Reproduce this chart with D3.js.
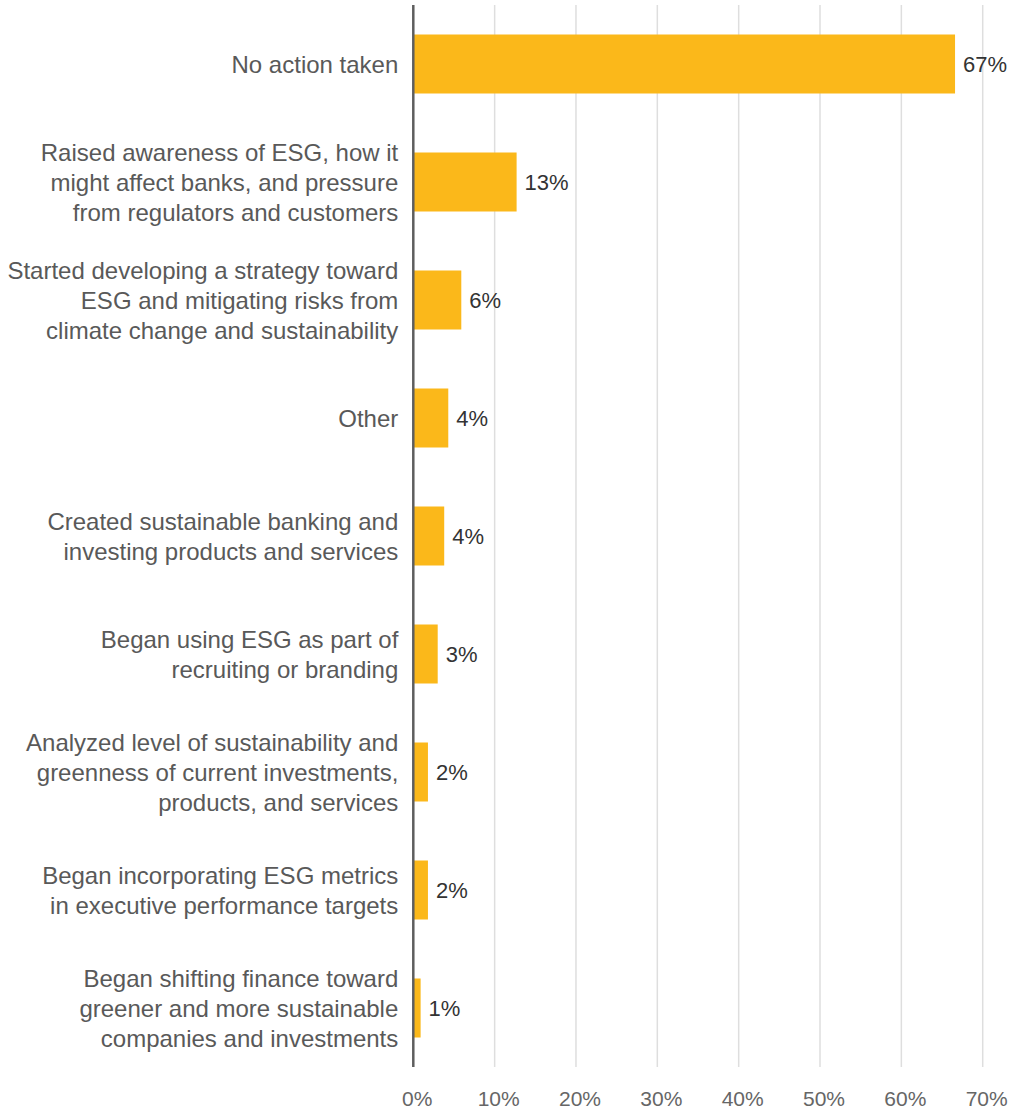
<!DOCTYPE html>
<html>
<head>
<meta charset="utf-8">
<script src="https://cdn.jsdelivr.net/npm/d3@7/dist/d3.min.js"></script>
<style>
  html, body { margin: 0; padding: 0; background: #fff; }
  svg { display: block; font-family: "Liberation Sans", Arial, Helvetica, sans-serif; }
</style>
</head>
<body>
<svg id="chart" width="1015" height="1109"></svg>
<script>
const categories = [
  ["No action taken"],
  ["Raised awareness of ESG, how it", "might affect banks, and pressure", "from regulators and customers"],
  ["Started developing a strategy toward", "ESG and mitigating risks from", "climate change and sustainability"],
  ["Other"],
  ["Created sustainable banking and", "investing products and services"],
  ["Began using ESG as part of", "recruiting or branding"],
  ["Analyzed level of sustainability and", "greenness of current investments,", "products, and services"],
  ["Began incorporating ESG metrics", "in executive performance targets"],
  ["Began shifting finance toward", "greener and more sustainable", "companies and investments"]
];
const values = [66.6, 12.7, 5.9, 4.3, 3.8, 3.0, 1.8, 1.8, 0.9];
const valueLabels = ["67%", "13%", "6%", "4%", "4%", "3%", "2%", "2%", "1%"];
const ticks = [0, 10, 20, 30, 40, 50, 60, 70];
const tickLabels = ["0%", "10%", "20%", "30%", "40%", "50%", "60%", "70%"];

const svg = d3.select("#chart");
const plotLeft = 413.3, plotRight = 982.7, plotTop = 5, plotBottom = 1067;

const x = d3.scaleLinear().domain([0, 70]).range([plotLeft, plotRight]);
const y = d3.scaleBand().domain(d3.range(categories.length)).range([plotTop, plotBottom])
  .paddingInner(0.5).paddingOuter(0.25);

// gridlines
svg.append("g").selectAll("line").data(ticks.slice(1)).join("line")
  .attr("x1", d => x(d)).attr("x2", d => x(d))
  .attr("y1", plotTop).attr("y2", plotBottom)
  .attr("stroke", "#dedede").attr("stroke-width", 1.5);

// tick labels
svg.append("g").selectAll("text").data(ticks).join("text")
  .attr("x", d => x(d) + 4).attr("y", 1098)
  .attr("text-anchor", "middle").attr("dominant-baseline", "central")
  .attr("font-size", 21).attr("fill", "#666")
  .text((d, i) => tickLabels[i]);

// bars
svg.append("g").selectAll("rect").data(values).join("rect")
  .attr("x", x(0)).attr("y", (d, i) => y(i))
  .attr("width", d => x(d) - x(0)).attr("height", y.bandwidth())
  .attr("fill", "#fbb81a");

// axis line
svg.append("line")
  .attr("x1", x(0)).attr("x2", x(0)).attr("y1", plotTop).attr("y2", plotBottom)
  .attr("stroke", "#5e5e5e").attr("stroke-width", 2.5);

// value labels
svg.append("g").selectAll("text").data(values).join("text")
  .attr("x", d => x(d) + 8).attr("y", (d, i) => y(i) + y.bandwidth() / 2)
  .attr("dominant-baseline", "central")
  .attr("font-size", 22).attr("fill", "#333")
  .text((d, i) => valueLabels[i]);

// category labels
const lineH = 30;
const cat = svg.append("g").selectAll("text").data(categories).join("text")
  .attr("text-anchor", "end").attr("font-size", 24).attr("fill", "#595959");
cat.each(function (lines, i) {
  const cy = y(i) + y.bandwidth() / 2;
  const n = lines.length;
  d3.select(this).selectAll("tspan").data(lines).join("tspan")
    .attr("x", plotLeft - 15)
    .attr("y", (l, j) => cy + (j - (n - 1) / 2) * lineH)
    .attr("dominant-baseline", "central")
    .text(l => l);
});
</script>
</body>
</html>
